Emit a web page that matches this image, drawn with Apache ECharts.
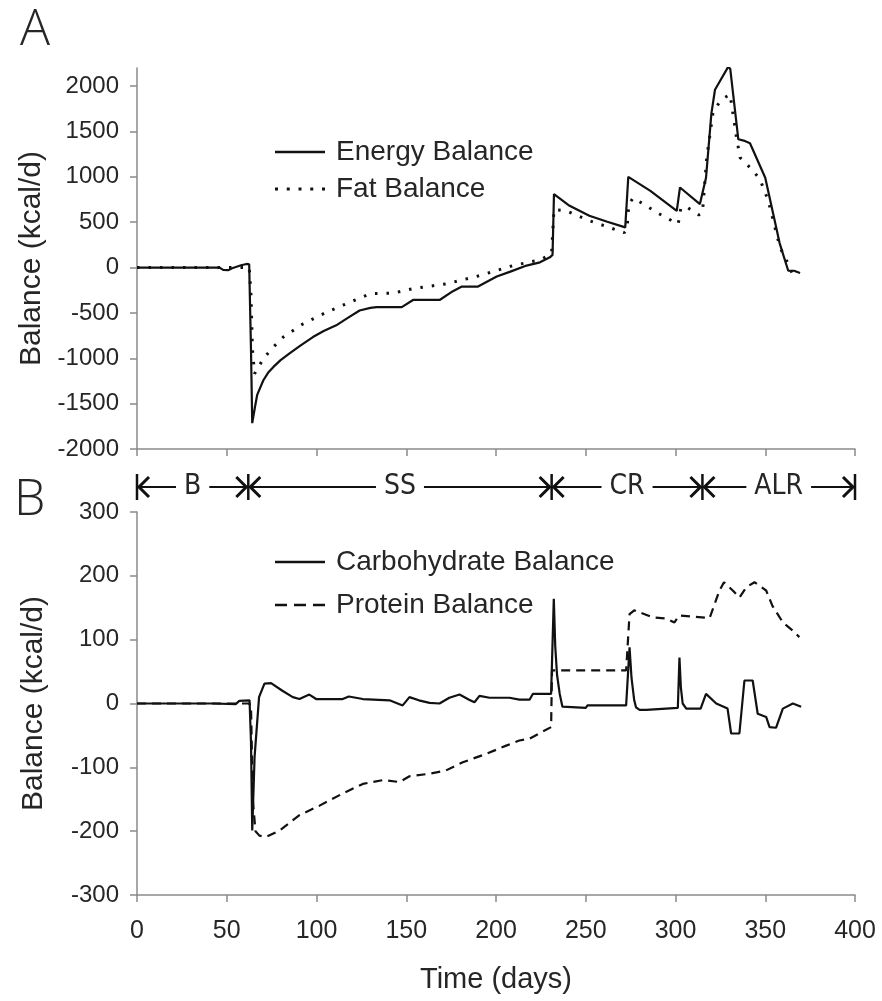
<!DOCTYPE html>
<html>
<head>
<meta charset="utf-8">
<script src="https://cdn.jsdelivr.net/npm/echarts@6/dist/echarts.min.js"></script>
<style>
html,body{margin:0;padding:0;background:#fff;}
#chart{width:882px;height:1001px;}
</style>
</head>
<body>
<div id="chart"></div>
<script>
// ---- Data ----
const xTicksDays = [0, 50, 100, 150, 200, 250, 300, 350, 400];
const yTicksA = [-2000, -1500, -1000, -500, 0, 500, 1000, 1500, 2000];
const yTicksB = [-300, -200, -100, 0, 100, 200, 300];

const phaseBounds = [0, 62, 231, 315, 400];
const phaseNames = ['B', 'SS', 'CR', 'ALR'];

const energyBalance = [
  [0,0],[46,0],[48,-25],[51,-28],[53,-8],[58,25],[61,40],[62.5,35],[63.5,-900],[64.2,-1715],
  [65.7,-1540],[67,-1400],[70.4,-1242],[73,-1160],[76,-1095],[80,-1020],[85,-945],[91,-860],
  [98,-766],[104,-700],[111,-637],[117,-560],[124,-473],[130,-445],[133.5,-436],[147.5,-436],
  [154,-355],[168.8,-355],[176,-260],[181,-209],[190,-209],[200.4,-99],[208,-45],[217,22],
  [224.5,58],[230,113],[231.5,140],[232.3,810],[241,681],[252,571],[262,505],[272,443],
  [273.7,1000],[286,846],[300.7,626],[302.5,883],[313.6,700],[314.6,690],[317,990],[320,1700],
  [322,1960],[329.4,2215],[330.5,2190],[335,1414],[338,1400],[341.5,1370],[350,990],[358,270],
  [362.8,-35],[366,-35],[369.4,-60]
];
const fatBalance = [
  [0,0],[61,0],[62.5,5],[63.5,-300],[64.3,-900],[65.5,-1170],[67,-1120],[70.4,-1003],[76,-876],
  [81.5,-766],[92.6,-619],[105.7,-491],[118.7,-381],[129.8,-289],[135,-285],[142.8,-282],
  [154,-231],[172.5,-179],[191,-88],[209.5,22],[224.5,85],[229,130],[231,170],[232.3,640],
  [239,626],[252,516],[262,450],[271.5,385],[273,420],[274,700],[276.5,770],[289.5,608],
  [299.7,498],[301.5,480],[303,660],[306,670],[310,620],[313,580],[315,600],[317.4,1212],
  [321,1725],[325.7,1854],[330.4,1909],[332,1700],[334,1432],[336,1212],[342.4,1085],
  [347,975],[351.7,736],[358.2,223],[362.8,40],[366.6,-143]
];
const carbBalance = [
  [0,0],[42,0],[43,-1],[55,-1],[57,4],[62.7,5],[63.5,-60],[64.2,-199],[65.5,-84],[68,10],
  [71,31],[74.7,32],[81,20],[86.8,10],[90.5,7],[96,14],[99.8,7],[114.6,7],[118,11],[125.8,7],
  [140.7,5],[148,-3],[151.8,10],[157,5],[163,1],[168.5,0],[174,9],[179.7,14],[185,6],[188,2],
  [190.8,12],[196.4,9],[207.5,9],[213,6],[218.7,6],[220.5,15],[230.7,15],[232.2,164],[233,90],
  [234,45],[235.5,15],[237,-5],[250,-7],[251,-3],[272.5,-3],[274.4,88],[275.5,40],[277,5],
  [278,-6],[280,-10],[283.7,-10],[284.6,-7],[301.3,-7],[302.2,72],[303,25],[304,0],[306,-8],
  [314,-8],[317,15],[322.7,0],[329,-8],[331,-47],[335.6,-47],[338.4,36],[343,36],[345.8,-16],
  [350.5,-21],[352.4,-37],[356,-38],[359.8,-8],[365.4,0],[370,-5]
];
const proteinBalance = [
  [0,0],[62,0],[63.5,-2],[64.5,-150],[66,-200],[68.2,-207],[72,-209],[79.4,-199],[90.5,-175],
  [101.7,-160],[114.6,-141],[125.8,-126],[137,-120],[146.2,-123],[151.8,-114],[163,-110],
  [172,-105],[181.5,-92],[194.5,-79],[205.7,-66],[213,-58],[218.7,-55],[224,-47],[230.7,-37],
  [231.2,52],[272.5,52],[273.5,55],[274.4,140],[277,146],[287.4,135],[294.8,133],[299.4,127],
  [302,138],[309.6,136],[319,134],[324.5,177],[327,190],[331.9,177],[335.6,166],[339.4,182],
  [344,190],[350.5,177],[354,153],[359.8,127],[365.4,114],[369,104]
];

// ---- Chart ----
const FONT = '"Liberation Sans", Arial, sans-serif';
const TXT = '#262626';
const AXIS = '#8a8a8a';
const INK = '#111';

// legend sample icons (solid, dotted, dashed), 50 px wide
const ICON_SOLID = 'path://M0,0h50v2.4h-50z';
const ICON_DOTTED = 'path://M0,0h3v3h-3z M11.75,0h3v3h-3z M23.5,0h3v3h-3z M35.25,0h3v3h-3z M47,0h3v3h-3z';
const ICON_DASHED = 'path://M0,0h12v2.4h-12z M19,0h12v2.4h-12z M38,0h12v2.4h-12z';

const phaseSegments = phaseNames.map((n, i) => [phaseBounds[i], phaseBounds[i + 1], i]);

function axisX(idx, showLabels) {
  return {
    type: 'value', gridIndex: idx, min: 0, max: 400, interval: 50,
    axisLine: { show: true, onZero: false, lineStyle: { color: AXIS, width: 1.5 } },
    axisTick: { show: true, inside: false, length: 7, lineStyle: { color: AXIS, width: 1.5 } },
    axisLabel: { show: showLabels, fontFamily: FONT, fontSize: 25, color: TXT, margin: 24 },
    splitLine: { show: false }
  };
}
const plain = v => String(v);

const chart = echarts.init(document.getElementById('chart'), null, { renderer: 'canvas' });
chart.setOption({
  animation: false,
  backgroundColor: '#fff',
  textStyle: { fontFamily: FONT },
  grid: [
    { left: 137, right: 27, top: 68, height: 381 },
    { left: 137, right: 27, top: 475, height: 24 },
    { left: 137, right: 27, top: 512, height: 383 }
  ],
  xAxis: [
    axisX(0, false),
    { type: 'value', gridIndex: 1, min: 0, max: 400, show: false },
    Object.assign(axisX(2, true), {
      name: 'Time (days)', nameLocation: 'middle', nameGap: 70,
      nameTextStyle: { fontFamily: FONT, fontSize: 29, color: TXT }
    })
  ],
  yAxis: [
    {
      type: 'value', gridIndex: 0, min: -2000, max: 2200, interval: 500,
      name: 'Balance (kcal/d)', nameLocation: 'middle', nameGap: 88,
      nameTextStyle: { fontFamily: FONT, fontSize: 30, color: TXT },
      axisLine: { show: true, onZero: false, lineStyle: { color: AXIS, width: 1.5 } },
      axisTick: { show: true, inside: false, length: 7, lineStyle: { color: AXIS, width: 1.5 }, customValues: yTicksA },
      axisLabel: { fontFamily: FONT, fontSize: 24, color: TXT, margin: 18, customValues: yTicksA, formatter: plain },
      splitLine: { show: false }
    },
    { type: 'value', gridIndex: 1, min: -1, max: 1, show: false },
    {
      type: 'value', gridIndex: 2, min: -300, max: 300, interval: 100,
      name: 'Balance (kcal/d)', nameLocation: 'middle', nameGap: 88,
      nameTextStyle: { fontFamily: FONT, fontSize: 30, color: TXT },
      axisLine: { show: true, onZero: false, lineStyle: { color: AXIS, width: 1.5 } },
      axisTick: { show: true, inside: false, length: 7, lineStyle: { color: AXIS, width: 1.5 } },
      axisLabel: { fontFamily: FONT, fontSize: 24, color: TXT, margin: 18, formatter: plain },
      splitLine: { show: false }
    }
  ],
  legend: [
    {
      data: [{ name: 'Energy Balance', icon: ICON_SOLID }, { name: 'Fat Balance', icon: ICON_DOTTED }],
      orient: 'vertical', left: 270, top: 132,
      itemWidth: 50, itemHeight: 14, itemGap: 7, selectedMode: false,
      itemStyle: { color: INK, borderWidth: 0 },
      textStyle: { fontFamily: FONT, fontSize: 28, color: TXT, lineHeight: 30, padding: [0, 0, 0, 6] }
    },
    {
      data: [{ name: 'Carbohydrate Balance', icon: ICON_SOLID }, { name: 'Protein Balance', icon: ICON_DASHED }],
      orient: 'vertical', left: 270, top: 542,
      itemWidth: 50, itemHeight: 14, itemGap: 13, selectedMode: false,
      itemStyle: { color: INK, borderWidth: 0 },
      textStyle: { fontFamily: FONT, fontSize: 28, color: TXT, lineHeight: 30, padding: [0, 0, 0, 6] }
    }
  ],
  graphic: [
    { type: 'text', left: 20, top: 6, style: { text: 'A', font: '300 50px "Open Sans", "DejaVu Sans", sans-serif', fill: TXT } },
    { type: 'text', left: 14, top: 476, style: { text: 'B', font: '300 50px "Open Sans", "DejaVu Sans", sans-serif', fill: TXT } }
  ],
  series: [
    {
      name: 'Energy Balance', type: 'line', xAxisIndex: 0, yAxisIndex: 0, data: energyBalance,
      symbol: 'none', lineStyle: { color: INK, width: 2.2 }, itemStyle: { color: INK }
    },
    {
      name: 'Fat Balance', type: 'line', xAxisIndex: 0, yAxisIndex: 0, data: fatBalance,
      symbol: 'none', lineStyle: { color: INK, width: 3, type: [2.5, 9] }, itemStyle: { color: INK }
    },
    {
      name: 'Carbohydrate Balance', type: 'line', xAxisIndex: 2, yAxisIndex: 2, data: carbBalance,
      symbol: 'none', lineStyle: { color: INK, width: 2.2 }, itemStyle: { color: INK }
    },
    {
      name: 'Protein Balance', type: 'line', xAxisIndex: 2, yAxisIndex: 2, data: proteinBalance,
      symbol: 'none', lineStyle: { color: INK, width: 2.2, type: [9, 6] }, itemStyle: { color: INK }
    },
    {
      name: 'phases', type: 'custom', xAxisIndex: 1, yAxisIndex: 1, silent: true,
      data: phaseSegments,
      encode: { x: [0, 1] },
      renderItem: function (params, api) {
        const s = api.value(0), e = api.value(1), idx = api.value(2);
        const p0 = api.coord([s, 0]);
        const p1 = api.coord([e, 0]);
        const y = p0[1];
        const stroke = { stroke: INK, lineWidth: 2, fill: null };
        const children = [
          { type: 'line', shape: { x1: p0[0], y1: y, x2: p1[0], y2: y }, style: stroke },
          { type: 'polyline', shape: { points: [[p0[0] + 12, y - 10], [p0[0] + 2, y], [p0[0] + 12, y + 10]] },
            style: { stroke: INK, lineWidth: 3, fill: null } },
          { type: 'polyline', shape: { points: [[p1[0] - 12, y - 10], [p1[0] - 2, y], [p1[0] - 12, y + 10]] },
            style: { stroke: INK, lineWidth: 3, fill: null } },
          { type: 'line', shape: { x1: p0[0], y1: y - 13, x2: p0[0], y2: y + 13 }, style: { stroke: INK, lineWidth: 2.5 } },
          { type: 'text', x: (p0[0] + p1[0]) / 2, y: y,
            style: { text: phaseNames[idx], fill: TXT, align: 'center', verticalAlign: 'middle',
              font: '300 28px "Liberation Sans Narrow", "DejaVu Sans Condensed", "Open Sans", sans-serif',
              backgroundColor: '#fff', padding: [0, 8] } }
        ];
        if (idx === phaseNames.length - 1) {
          children.push({ type: 'line', shape: { x1: p1[0], y1: y - 13, x2: p1[0], y2: y + 13 }, style: { stroke: INK, lineWidth: 2.5 } });
        }
        return { type: 'group', children: children };
      }
    }
  ]
});
</script>
</body>
</html>
